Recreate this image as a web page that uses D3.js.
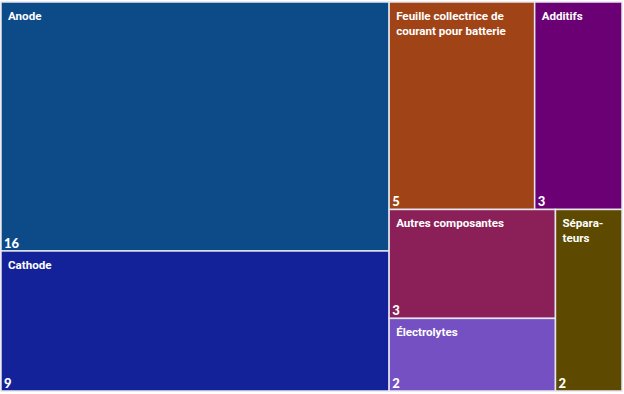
<!DOCTYPE html>
<html><head><meta charset="utf-8">
<script src="https://cdn.jsdelivr.net/npm/d3@7"></script>
<style>body{margin:0;background:#fff}svg{display:block}</style>
</head><body>
<svg id="c" width="624" height="394"></svg>
<script>
const categories = ["Anode","Cathode","Feuille collectrice de courant pour batterie","Additifs","Autres composantes","Électrolytes","Séparateurs"];
const values = [16, 9, 5, 3, 3, 2, 2];
const labelLines = [["Anode"],["Cathode"],["Feuille collectrice de","courant pour batterie"],["Additifs"],["Autres composantes"],["Électrolytes"],["Sépara-","teurs"]];
const colors = ["#0C4A88","#142299","#A04316","#6B0074","#8B1F57","#7450C3","#5D4A00"];
// grouping path (layout nesting) for each category
const groupPath = [["L"],["L"],["R","T"],["R","T"],["R","B","BL"],["R","B","BL"],["R","B"]];

// build nested hierarchy
const root = {name:"root", children:[]};
categories.forEach((c,i)=>{
  let node = root;
  groupPath[i].forEach(g=>{
    let ch = node.children.find(n=>n.name===g);
    if(!ch){ch={name:g,children:[]};node.children.push(ch);}
    node = ch;
  });
  node.children.push({name:c, value:values[i], idx:i});
});

const x0=1, y0=2, x1=622, y1=391;
const h = d3.hierarchy(root).sum(d=>d.value||0);
d3.treemap().tile(d3.treemapSliceDice).size([x1-x0, y1-y0]).round(false)(h);

const svg = d3.select("#c");
const g = svg.append("g").attr("transform",`translate(${x0},${y0})`);
const leaves = h.leaves();
const cell = g.selectAll("g.cell").data(leaves).join("g").attr("class","cell");
cell.append("rect")
  .attr("x",d=>d.x0).attr("y",d=>d.y0)
  .attr("width",d=>d.x1-d.x0).attr("height",d=>d.y1-d.y0)
  .attr("fill",d=>colors[d.data.idx])
  .attr("stroke","#e6e6ee").attr("stroke-width",1.5);
cell.append("text")
  .attr("font-family","Roboto, 'Open Sans', sans-serif").attr("font-weight","bold")
  .attr("font-size",11.6).attr("fill","#fff")
  .selectAll("tspan").data(d=>labelLines[d.data.idx].map(t=>({t,d})))
  .join("tspan")
  .attr("x",p=>p.d.x0+7).attr("y",(p,i)=>p.d.y0+18+i*14.5)
  .text(p=>p.t);
cell.append("text")
  .attr("font-family","Lato, 'Open Sans', sans-serif").attr("font-weight","900")
  .attr("font-size",13).attr("fill","#fff")
  .attr("x",d=>d.x0+3).attr("y",d=>d.y1-3)
  .text(d=>values[d.data.idx]);
</script>
</body></html>
